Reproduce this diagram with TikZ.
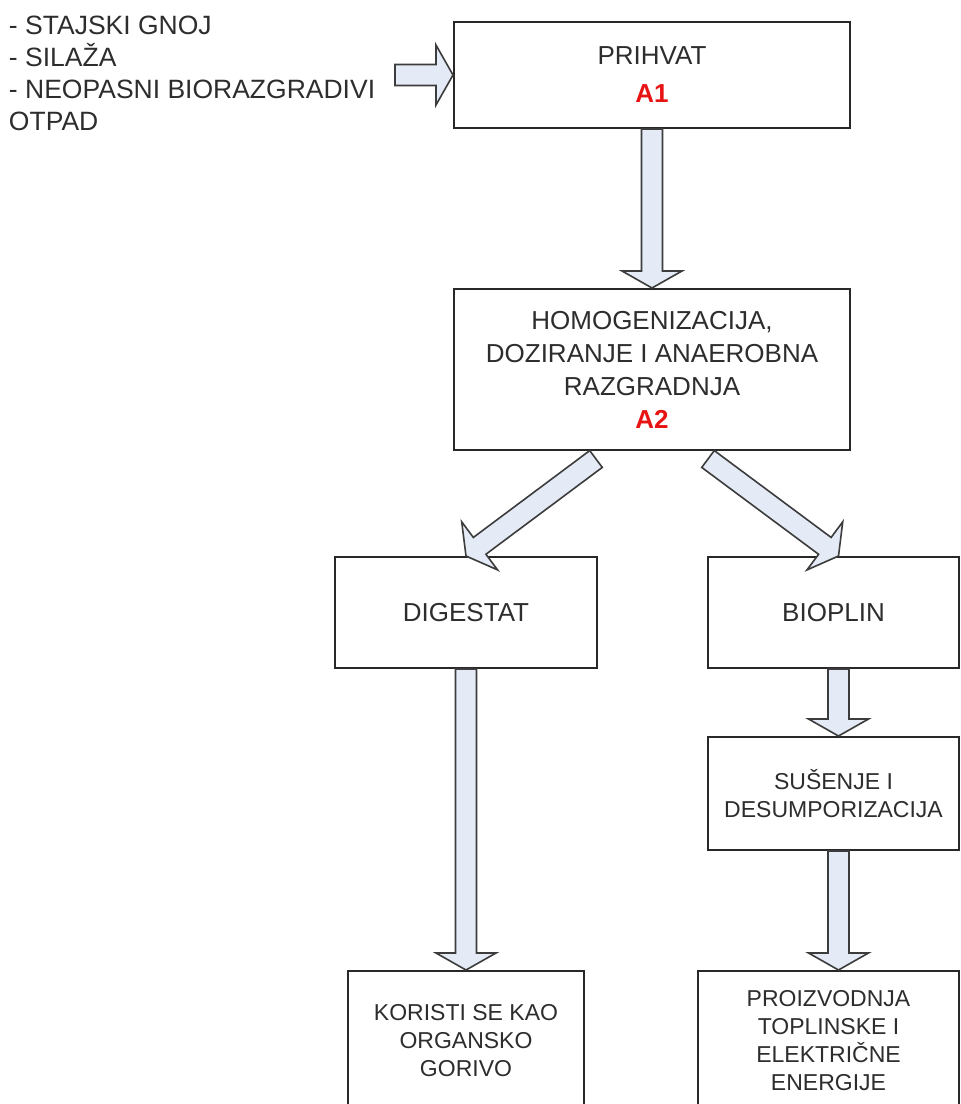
\documentclass[tikz,border=0pt]{standalone}
\usepackage{fontspec}
\setmainfont{Liberation Sans}
\usepackage{tikz}
\usetikzlibrary{calc}
\definecolor{boxline}{RGB}{40, 40, 40}
\definecolor{arrowfill}{RGB}{228, 234, 246}
\definecolor{arrowline}{RGB}{60, 60, 60}
\definecolor{textgray}{RGB}{45, 45, 45}
\definecolor{labelred}{RGB}{232, 20, 20}
\newcommand{\fatarrow}[2]{%
  \coordinate (h) at ($(#2)!17pt!(#1)$);
  \draw[fat] ($(#1)!10.5pt!90:(#2)$) -- ($(h)!10.5pt!90:(#2)$) -- ($(h)!30pt!90:(#2)$) -- (#2)
    -- ($(h)!30pt!-90:(#2)$) -- ($(h)!10.5pt!-90:(#2)$) -- ($(#1)!10.5pt!-90:(#2)$) -- cycle;}

\begin{document}
\begin{tikzpicture}[x=1pt, y=-1pt, line width=2pt,
  box/.style={draw=boxline, fill=white, align=center, inner sep=0pt, text=textgray, font=\fontsize{26}{33}\selectfont},
  smallbox/.style={box, font=\fontsize{23}{28}\selectfont},
  fat/.style={draw=arrowline, fill=arrowfill, line width=1.6pt, line join=miter}]
  \useasboundingbox (0, 0) rectangle (961, 1104);
  \clip (0, 0) rectangle (961, 1104);
  \node[anchor=north west, align=left, inner sep=0pt, text=textgray, font=\fontsize{26.5}{32}\selectfont] (inputs) at (8, 15)
    {- STAJSKI GNOJ\\- SILAŽA\\- NEOPASNI BIORAZGRADIVI\\OTPAD};
  \node[box, minimum width=396, minimum height=106] (prihvat) at (652, 75)
    {PRIHVAT\\[5pt]{\color{labelred}\bfseries A1}};
  \node[box, minimum width=396, minimum height=161] (homog) at (652, 369.5)
    {HOMOGENIZACIJA,\\DOZIRANJE I ANAEROBNA\\RAZGRADNJA\\{\color{labelred}\bfseries A2}};
  \node[box, minimum width=262, minimum height=111] (digestat) at (466, 612.5) {DIGESTAT};
  \node[box, minimum width=251, minimum height=111] (bioplin) at (833.5, 612.5) {BIOPLIN};
  \node[smallbox, minimum width=251, minimum height=113] (susenje) at (833.5, 793.5) {SUŠENJE I\\DESUMPORIZACIJA};
  \node[smallbox, minimum width=236, minimum height=140] (koristi) at (466, 1041) {KORISTI SE KAO\\ORGANSKO\\GORIVO};
  \node[smallbox, minimum width=261, minimum height=140] (proizv) at (828.5, 1041) {PROIZVODNJA\\TOPLINSKE I\\ELEKTRIČNE\\ENERGIJE};
  \coordinate (feed) at (395, 75);
  \coordinate (dgtail) at ($(homog.south)+(-56, 8)$);
  \coordinate (bptail) at ($(homog.south)+(56, 8)$);
  \coordinate (bptip) at ($(bioplin.north)+(5, 0)$);
  \coordinate (bpout) at ($(bioplin.south)+(5, 0)$);
  \coordinate (susin) at ($(susenje.north)+(5, 0)$);
  \coordinate (susout) at ($(susenje.south)+(5, 0)$);
  \coordinate (proin) at ($(proizv.north)+(10, 0)$);
  \fatarrow{feed}{prihvat.west}
  \fatarrow{prihvat.south}{homog.north}
  \fatarrow{dgtail}{digestat.north}
  \fatarrow{bptail}{bptip}
  \fatarrow{digestat.south}{koristi.north}
  \fatarrow{bpout}{susin}
  \fatarrow{susout}{proin}
\end{tikzpicture}
\end{document}
